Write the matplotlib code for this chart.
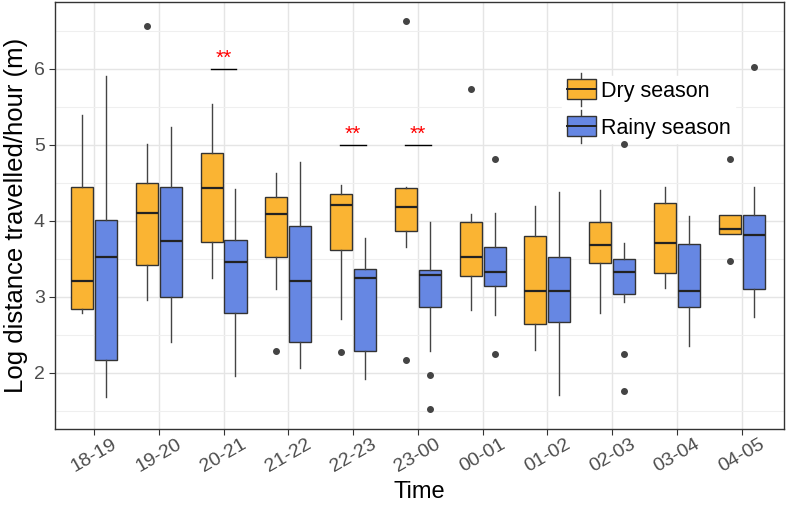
import numpy as np
import matplotlib.pyplot as plt
from matplotlib.patches import Rectangle
from matplotlib.lines import Line2D
from matplotlib.legend_handler import HandlerBase

plt.rcParams['font.family'] = ['Liberation Sans', 'DejaVu Sans']

# time bins
times = ['18-19', '19-20', '20-21', '21-22', '22-23', '23-00',
         '00-01', '01-02', '02-03', '03-04', '04-05']

# dry season box stats
dry_lo = [2.79, 2.96, 3.24, 3.10, 2.70, 3.65, 2.82, 2.30, 2.78, 3.11, 3.82]
dry_q1 = [2.84, 3.42, 3.72, 3.52, 3.61, 3.86, 3.27, 2.64, 3.44, 3.31, 3.82]
dry_med = [3.21, 4.10, 4.43, 4.09, 4.21, 4.18, 3.52, 3.08, 3.68, 3.71, 3.89]
dry_q3 = [4.45, 4.50, 4.89, 4.31, 4.35, 4.43, 3.99, 3.80, 3.98, 4.24, 4.07]
dry_hi = [5.39, 5.01, 5.54, 4.63, 4.47, 4.44, 4.09, 4.20, 4.40, 4.45, 4.08]
dry_out = [[], [6.57], [], [2.28], [2.27], [6.63, 2.17], [5.74], [], [], [], [4.81, 3.47]]

# rainy season box stats
rain_lo = [1.68, 2.40, 1.96, 2.06, 1.92, 2.29, 2.76, 1.70, 2.93, 2.35, 2.73]
rain_q1 = [2.17, 3.00, 2.79, 2.40, 2.29, 2.86, 3.14, 2.66, 3.04, 2.86, 3.10]
rain_med = [3.52, 3.73, 3.46, 3.20, 3.25, 3.28, 3.33, 3.07, 3.32, 3.08, 3.81]
rain_q3 = [4.01, 4.45, 3.75, 3.93, 3.37, 3.35, 3.66, 3.52, 3.49, 3.70, 4.08]
rain_hi = [5.91, 5.24, 4.42, 4.77, 3.77, 3.98, 4.10, 4.38, 3.71, 4.06, 4.45]
rain_out = [[], [], [], [], [], [1.97, 1.52], [4.81, 2.24], [], [5.01, 2.25, 1.76], [], [6.02]]

# significance marks: (group index, bar height)
sig_idx = [2, 4, 5]
sig_y = [6.0, 5.0, 5.0]

dry_col = '#FAB433'
rain_col = '#6687E3'
edge = '#333333'


def make_stats(lo, q1, med, q3, hi, out):
    return [dict(whislo=a, q1=b, med=c, q3=d, whishi=e, fliers=f)
            for a, b, c, d, e, f in zip(lo, q1, med, q3, hi, out)]


fig = plt.figure(figsize=(7.87, 5.16), dpi=100)
ax = fig.add_axes([0.070, 0.169, 0.926, 0.827])

x = np.arange(len(times))
off = 0.185
w = 0.34
common = dict(widths=w, patch_artist=True, showfliers=True,
              medianprops=dict(color='#222222', linewidth=1.6),
              whiskerprops=dict(color='#444444', linewidth=1.0),
              capprops=dict(linewidth=0),
              flierprops=dict(marker='o', markerfacecolor='#444444',
                              markeredgecolor='#444444', markersize=4, zorder=6))

bd = ax.bxp(make_stats(dry_lo, dry_q1, dry_med, dry_q3, dry_hi, dry_out),
            positions=x - off, **common)
br = ax.bxp(make_stats(rain_lo, rain_q1, rain_med, rain_q3, rain_hi, rain_out),
            positions=x + off, **common)
for b in bd['boxes']:
    b.set_facecolor(dry_col)
    b.set_edgecolor(edge)
    b.set_linewidth(1.0)
for b in br['boxes']:
    b.set_facecolor(rain_col)
    b.set_edgecolor(edge)
    b.set_linewidth(1.0)

# significance bars and stars
for i, yv in zip(sig_idx, sig_y):
    ax.plot([i - 0.2, i + 0.2], [yv, yv], color='black', linewidth=1.0)
    ax.text(i, yv + 0.01, '**', color='red', ha='center', va='bottom', fontsize=15)

ax.set_xlim(-0.6, 10.65)
ax.set_ylim(1.26, 6.88)
ax.set_xticks(x)
ax.set_xticklabels(times, rotation=30, fontsize=14, color='#4d4d4d')
ax.set_yticks([2, 3, 4, 5, 6])
ax.set_yticks([1.5, 2.5, 3.5, 4.5, 5.5, 6.5], minor=True)
ax.tick_params(axis='y', labelsize=14, labelcolor='#4d4d4d', length=4, color='#333333')
ax.tick_params(axis='x', length=4, color='#333333', pad=1)
ax.tick_params(axis='y', which='minor', length=0)
ax.grid(True, which='major', color='#e5e5e5', linewidth=1.0)
ax.grid(True, which='minor', axis='y', color='#efefef', linewidth=0.8)
ax.set_axisbelow(True)
for s in ax.spines.values():
    s.set_color('#333333')
    s.set_linewidth(1.0)

ax.set_xlabel('Time', fontsize=17, labelpad=4)
ax.set_ylabel('Log distance travelled/hour (m)', fontsize=18.5, labelpad=4)


# legend with box-shaped keys
class BoxHandler(HandlerBase):
    def __init__(self, color):
        super().__init__()
        self.color = color

    def create_artists(self, legend, orig, xd, yd, width, height, fontsize, trans):
        cx = xd + width / 2
        r = Rectangle((xd, yd - 0.15 * height), width, height * 1.3,
                      facecolor=self.color, edgecolor=edge, linewidth=1.0, transform=trans)
        m = Line2D([xd, xd + width], [yd + height / 2] * 2, color='#222222', linewidth=1.4, transform=trans)
        w1 = Line2D([cx, cx], [yd + 1.15 * height, yd + 1.6 * height], color='#444444', linewidth=1.0, transform=trans)
        w2 = Line2D([cx, cx], [yd - 0.15 * height, yd - 0.6 * height], color='#444444', linewidth=1.0, transform=trans)
        return [w1, w2, r, m]


hd = Rectangle((0, 0), 1, 1)
hr = Rectangle((0, 0), 1, 1)
leg = ax.legend([hd, hr], ['Dry season', 'Rainy season'],
                handler_map={hd: BoxHandler(dry_col), hr: BoxHandler(rain_col)},
                loc='upper left', bbox_to_anchor=(0.696, 0.826), fontsize=15.5,
                frameon=True, handlelength=1.36, handleheight=0.7, labelspacing=0.75,
                handletextpad=0.25, borderpad=0.2, borderaxespad=0)
leg.get_frame().set_edgecolor('white')
leg.get_frame().set_alpha(1.0)
leg.get_frame().set_boxstyle('square', pad=0)

fig.savefig('out.png', dpi=100)
